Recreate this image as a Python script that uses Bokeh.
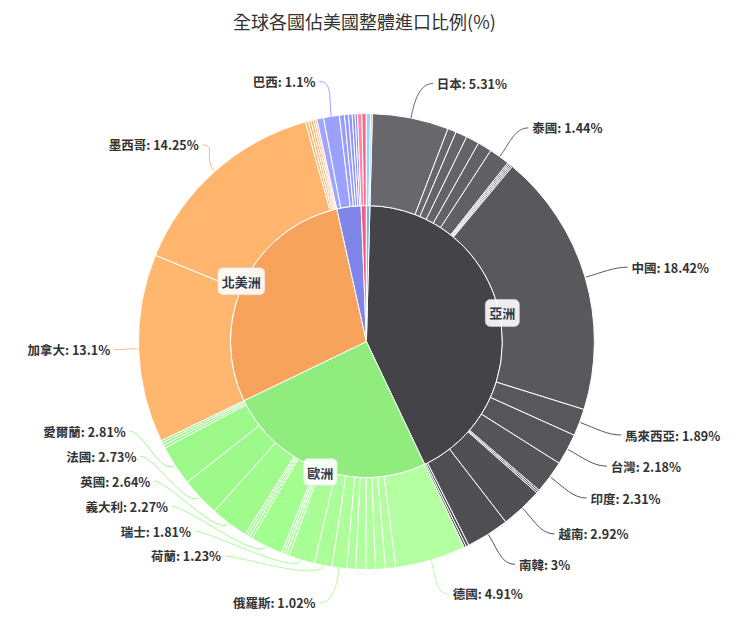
import math
from bokeh.plotting import figure
from bokeh.models import Range1d, ColumnDataSource
from bokeh.core.properties import value
from bokeh.embed import file_html
from bokeh.resources import INLINE

title = "全球各國佔美國整體進口比例(%)"

regions = ["亞洲", "歐洲", "北美洲", "南美洲", "非洲", "大洋洲"]
region_colors = ["#434348", "#90ed7d", "#f7a35c", "#8085e9", "#f15c80", "#7cb5ec"]

asia_names = ["日本", "以色列", "印尼", "菲律賓", "新加坡", "泰國",
              "柬埔寨", "香港", "孟加拉", "沙烏地阿拉伯",
              "中國", "馬來西亞", "台灣", "印度", "斯里蘭卡", "巴基斯坦",
              "越南", "南韓", "卡達", "阿聯"]
asia_values = [5.31, 0.6, 0.8, 0.92, 0.98, 1.44,
               0.1, 0.1, 0.1, 0.1,
               18.42, 1.89, 2.18, 2.31, 0.12, 0.12,
               2.92, 3.0, 0.2, 0.15]

europe_names = ["德國", "西班牙", "瑞典", "奧地利", "比利時", "丹麥",
                "俄羅斯", "荷蘭", "瑞士", "挪威", "波蘭", "芬蘭",
                "義大利", "匈牙利", "捷克", "葡萄牙",
                "英國", "法國", "愛爾蘭", "希臘", "羅馬尼亞", "斯洛伐克"]
europe_values = [4.91, 0.72, 0.68, 0.66, 0.7, 0.62,
                 1.02, 1.23, 1.81, 0.2, 0.18, 0.17,
                 2.27, 0.2, 0.18, 0.17,
                 2.64, 2.73, 2.81, 0.2, 0.18, 0.17]

namerica_names = ["加拿大", "墨西哥", "哥斯大黎加", "多明尼加", "瓜地馬拉", "宏都拉斯", "薩爾瓦多"]
namerica_values = [13.1, 14.25, 0.2, 0.18, 0.16, 0.14, 0.12]

samerica_names = ["哥倫比亞", "巴西", "智利", "秘魯", "阿根廷", "厄瓜多", "千里達"]
samerica_values = [0.47, 1.1, 0.35, 0.28, 0.25, 0.2, 0.17]

africa_names = ["南非", "奈及利亞"]
africa_values = [0.3, 0.3]

oceania_names = ["澳洲", "紐西蘭"]
oceania_values = [0.3, 0.12]

children_names = [asia_names, europe_names, namerica_names,
                  samerica_names, africa_names, oceania_names]
children_values = [asia_values, europe_values, namerica_values,
                   samerica_values, africa_values, oceania_values]

# layout in reference pixels (740 x 628, y down), squeezed into the figure
W, H = 724, 612
cx, cy = 370, 346
r_in, r_out = 139, 233
r_lab = 270
start_offset = math.radians(1.5)
light_start = [36, 36, 20, 32, 40, 30]
light_end = 8
font = value("Noto Sans CJK TC")


def sy(y):
    return 624 - y


def brighten(hexcol, d):
    c = [int(hexcol[i:i + 2], 16) for i in (1, 3, 5)]
    c = [max(0, min(255, int(round(v + d)))) for v in c]
    return "#%02x%02x%02x" % tuple(c)


def pt(r, th):
    return cx + r * math.sin(th), sy(cy - r * math.cos(th))


p = figure(width=W, height=H, output_backend="svg", toolbar_location=None,
           x_range=Range1d(-4, 736), y_range=Range1d(0, 628),
           min_border=0)
p.axis.visible = False
p.grid.visible = False
p.outline_line_color = None

total = sum(sum(v) for v in children_values)
scale = 2 * math.pi / total

inner = dict(start=[], end=[], color=[])
outer = dict(start=[], end=[], color=[])
labels = []
region_labels = []

th = start_offset
for gi, (names, vals) in enumerate(zip(children_names, children_values)):
    g0 = th
    n = len(vals)
    for i, (nm, v) in enumerate(zip(names, vals)):
        t0, t1 = th, th + v * scale
        d = light_start[gi] - (light_start[gi] - light_end) * (i / max(n - 1, 1))
        col = brighten(region_colors[gi], d)
        outer["start"].append(math.pi / 2 - t1)
        outer["end"].append(math.pi / 2 - t0)
        outer["color"].append(col)
        if v >= 1.0:
            labels.append((f"{nm}: {v:g}%", (t0 + t1) / 2, col))
        th = t1
    inner["start"].append(math.pi / 2 - th)
    inner["end"].append(math.pi / 2 - g0)
    inner["color"].append(region_colors[gi])
    if (th - g0) / (2 * math.pi) > 0.1:
        region_labels.append((regions[gi], (g0 + th) / 2))

p.wedge(x=cx, y=sy(cy), radius=r_in, start_angle="start", end_angle="end",
        color="color", line_color="white", line_width=1,
        source=ColumnDataSource(inner))
p.annular_wedge(x=cx, y=sy(cy), inner_radius=r_in, outer_radius=r_out,
                start_angle="start", end_angle="end", fill_color="color",
                line_color="white", line_width=1, source=ColumnDataSource(outer))

# outer labels: one column per side, crowded ones pushed upwards
sides = {"right": [], "left": []}
for txt, mid, col in labels:
    side = "right" if mid < math.pi else "left"
    sides[side].append([txt, mid, col, cy - r_lab * math.cos(mid)])

max_y = {"right": 610, "left": 566}
spacing = 25.6
conn = dict(x0=[], y0=[], x1=[], y1=[], cx0=[], cy0=[], cx1=[], cy1=[], color=[])
for side, items in sides.items():
    items.sort(key=lambda it: -it[3])
    prev = None
    placed = []
    for txt, mid, col, yd in items:
        if side == "left" and abs(mid - math.pi) < math.radians(10):
            y = yd
        else:
            y = min(yd, max_y[side]) if prev is None else min(yd, prev - spacing)
            prev = y
        dx = max(math.sqrt(max(r_lab ** 2 - (y - cy) ** 2, 0)), 60)
        if side == "right":
            x = cx + dx + 12
            ex, c2x = x - 4, x - 18
        else:
            x = cx - dx + 8
            ex, c2x = x + 4, x + 18
        placed.append((x, sy(y), txt))
        x0, y0 = pt(r_out + 1, mid)
        c1x, c1y = pt(r_out + 18, mid)
        conn["x0"].append(x0)
        conn["y0"].append(y0)
        conn["cx0"].append(c1x)
        conn["cy0"].append(c1y)
        conn["cx1"].append(c2x)
        conn["cy1"].append(sy(y))
        conn["x1"].append(ex)
        conn["y1"].append(sy(y))
        conn["color"].append(col)
    p.text(x=[q[0] for q in placed], y=[q[1] for q in placed],
           text=[q[2] for q in placed], text_align="left" if side == "right" else "right",
           text_baseline="middle", text_font=font, text_font_size="12.5px",
           text_font_style="bold", text_color="#333333")

p.bezier(x0="x0", y0="y0", x1="x1", y1="y1", cx0="cx0", cy0="cy0",
         cx1="cx1", cy1="cy1", line_color="color", line_width=1,
         source=ColumnDataSource(conn))

# region labels on the inner ring edge
rx, ry, rt = [], [], []
for nm, mid in region_labels:
    x, y = pt(r_in + 3, mid)
    rx.append(x)
    ry.append(y)
    rt.append(nm)
p.text(x=rx, y=ry, text=rt, text_align="center", text_baseline="middle",
       text_font=font, text_font_size="13px", text_font_style="bold",
       text_color="#2f3b4a", background_fill_color="white",
       background_fill_alpha=0.9, border_line_color="#d8d8d8",
       border_line_alpha=0.6, border_radius=5, padding=4)

p.text(x=[368], y=[sy(17)], text=[title], text_align="center",
       text_baseline="middle", text_font=font, text_font_size="18px",
       text_color="#333333")

open("out.html", "w").write(file_html(p, INLINE))
